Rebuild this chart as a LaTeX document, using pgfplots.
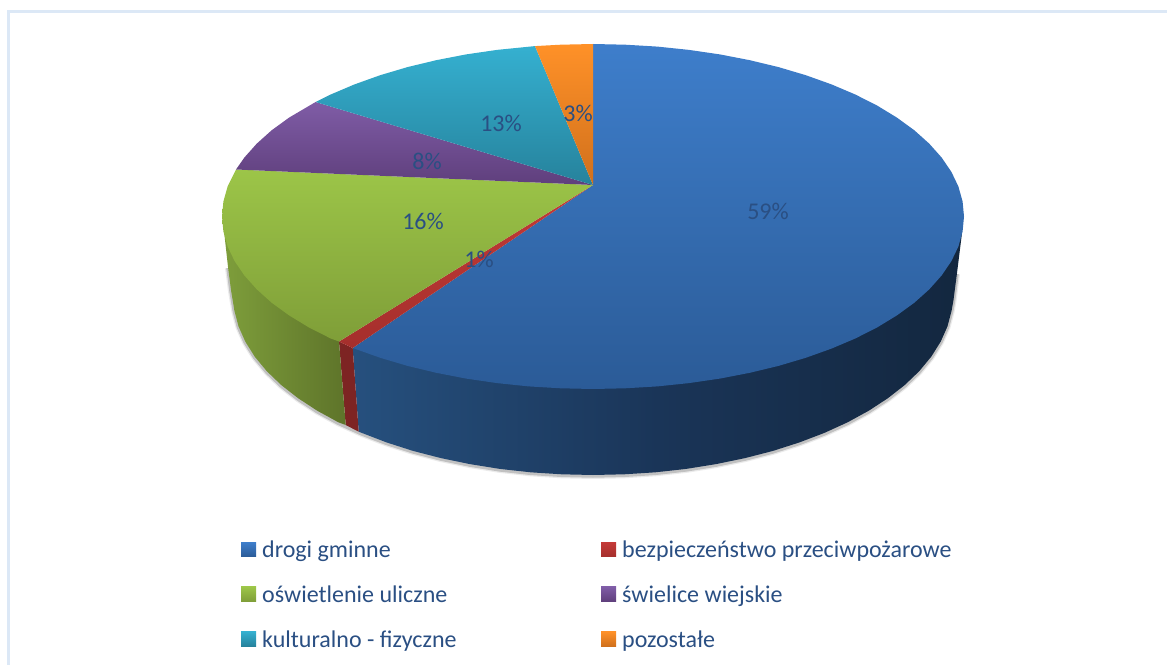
\documentclass[border=0pt]{standalone}
\usepackage{pgfplots}
\pgfplotsset{compat=1.18}
\usepackage{pgfplotstable}
\usepackage{fontspec}
\setmainfont{Carlito}
\definecolor{lbl}{HTML}{2A4F83}
\definecolor{frame}{HTML}{DCE8F6}
\definecolor{bsl}{HTML}{26507E}\definecolor{bsm}{HTML}{1A3558}\definecolor{bsr}{HTML}{13273F}
\definecolor{rs}{HTML}{7D2423}
\definecolor{gsl}{HTML}{7E9E3B}\definecolor{gsr}{HTML}{5E742A}
\definecolor{bt}{HTML}{3E7ECB}\definecolor{bb}{HTML}{2B5B97}
\definecolor{rt}{HTML}{C43A38}\definecolor{rb}{HTML}{A52F2C}
\definecolor{gt}{HTML}{9CC548}\definecolor{gb}{HTML}{7F9E38}
\definecolor{pt}{HTML}{7F5CA6}\definecolor{pb}{HTML}{5F3F7C}
\definecolor{tt}{HTML}{35B0D0}\definecolor{tb}{HTML}{26829C}
\definecolor{ot}{HTML}{FF9128}\definecolor{ob}{HTML}{D0701C}
\pgfplotstableread{
x y
957 273
953.5 300
951.6 310.7
947.5 326.3
940.7 341.6
931.3 356.6
919.3 371.1
904.8 385
887.9 398.2
868.8 410.7
847.6 422.3
824.4 432.9
799.5 442.4
773 450.9
745.1 458.1
716.1 464.1
686.2 468.9
655.5 472.3
624.4 474.3
593 475
561.6 474.3
530.5 472.3
499.8 468.9
469.9 464.1
440.9 458.1
413 450.9
386.5 442.4
361.6 432.9
338.4 422.3
317.2 410.7
298.1 398.2
281.2 385
266.7 371.1
254.7 356.6
245.3 341.6
238.5 326.3
234.4 310.7
231 290
228 267
}\rim
\begin{document}
\begin{tikzpicture}
\begin{axis}[
  width=1168pt,height=666pt,scale only axis,
  xmin=0,xmax=1168,ymin=0,ymax=666,y dir=reverse,
  hide axis,clip=false,
  legend columns=2,
  legend cell align=left,
  legend image code/.code={\path[#1,draw=none] (0pt,-6.5pt) rectangle (15pt,8pt);},
  legend style={at={(axis cs:241,538)},anchor=north west,draw=none,fill=none,
    row sep=20.5pt,font=\fontsize{24}{24}\selectfont\color{lbl},inner sep=0pt,
    nodes={inner xsep=6pt,inner ysep=3pt}},
]
% page corners and frame
\addplot[draw=none,forget plot] coordinates {(0,0) (1168,666)};
\addplot[frame,line width=3pt,forget plot] coordinates {(8,664.5) (8,12) (1166.5,12)};
% shadow
\addplot[black,line width=6pt,opacity=.08,forget plot,yshift=-1pt] table {\rim};
\addplot[black,line width=3.5pt,opacity=.18,forget plot,yshift=-1pt] table {\rim};
% side faces
\addplot[draw=none,left color=bsl,right color=bsr,middle color=bsm,forget plot]
 coordinates {(352.7,348) (358.7,431.7) (386.5,442.4) (413,450.9) (440.9,458.1) (469.9,464.1) (499.8,468.9) (530.5,472.3) (561.6,474.3) (593,475) (624.4,474.3) (655.5,472.3) (686.2,468.9) (716.1,464.1) (745.1,458.1) (773,450.9) (799.5,442.4) (824.4,432.9) (847.6,422.3) (868.8,410.7) (887.9,398.2) (904.8,385) (919.3,371.1) (931.3,356.6) (940.7,341.6) (947.5,326.3) (951.6,310.7) (953.5,300) (957,273) (962,233)} --cycle;
\addplot[draw=none,fill=rs,forget plot]
 coordinates {(339,341.5) (352.7,348) (358.7,431.7) (345.7,425)} --cycle;
\addplot[draw=none,left color=gsl,right color=gsr,forget plot]
 coordinates {(339,341.5) (345.7,425) (338.4,422.3) (317.2,410.7) (298.1,398.2) (281.2,385) (266.7,371.1) (254.7,356.6) (245.3,341.6) (238.5,326.3) (234.4,310.7) (231,290) (228,267) (225,240) (223.5,225)} --cycle;
% top faces
\addplot[draw=none,top color=bt,bottom color=bb]
 coordinates {(593,185) (593,44) (625.3,44.7) (657.4,46.6) (689,49.9) (719.9,54.4) (749.8,60.2) (778.5,67.1) (805.8,75.2) (831.5,84.4) (855.3,94.5) (877.2,105.6) (896.9,117.6) (914.3,130.25) (929.2,143.6) (941.6,157.5) (951.4,171.9) (958.4,186.5) (962.6,201.5) (964,216.5) (962.6,231.5) (958.4,246.5) (951.4,261.1) (941.6,275.5) (929.2,289.4) (914.3,302.75) (896.9,315.4) (877.2,327.4) (855.3,338.5) (831.5,348.6) (805.8,357.8) (778.5,365.9) (749.8,372.8) (719.9,378.6) (689,383.1) (657.4,386.4) (625.3,388.3) (593,389) (560.7,388.3) (528.6,386.4) (497,383.1) (466.1,378.6) (436.2,372.8) (407.5,365.9) (380.2,357.8) (352.7,348)} --cycle;
\addlegendentry{\makebox[333pt][l]{drogi gminne}}
\addplot[draw=none,top color=rt,bottom color=rb]
 coordinates {(593,185) (352.7,348) (339,341.5)} --cycle;
\addlegendentry{bezpieczeństwo przeciwpożarowe}
\addplot[draw=none,top color=gt,bottom color=gb]
 coordinates {(593,185) (339,341.5) (330.7,338.5) (308.8,327.4) (289.1,315.4) (271.7,302.75) (256.8,289.4) (244.4,275.5) (234.6,261.1) (227.6,246.5) (223.4,231.5) (222,216.5) (223.4,201.5) (227.6,186.5) (236,169.5)} --cycle;
\addlegendentry{\makebox[333pt][l]{oświetlenie uliczne}}
\addplot[draw=none,top color=pt,bottom color=pb]
 coordinates {(593,185) (236,169.5) (244.4,157.5) (256.8,143.6) (271.7,130.25) (289.1,117.6) (315.6,102)} --cycle;
\addlegendentry{świelice wiejskie}
\addplot[draw=none,top color=tt,bottom color=tb]
 coordinates {(593,185) (315.6,102) (330.7,94.5) (354.5,84.4) (380.2,75.2) (407.5,67.1) (436.2,60.2) (466.1,54.4) (497,49.9) (535,46.1)} --cycle;
\addlegendentry{\makebox[333pt][l]{kulturalno - fizyczne}}
\addplot[draw=none,top color=ot,bottom color=ob]
 coordinates {(593,185) (535,46.1) (560.7,44.7) (593,44)} --cycle;
\addlegendentry{pozostałe}
% data labels
\node[text=lbl,font=\fontsize{24}{24}\selectfont] at (axis cs:768,211) {59\%};
\node[text=lbl,font=\fontsize{24}{24}\selectfont] at (axis cs:479,259) {1\%};
\node[text=lbl,font=\fontsize{24}{24}\selectfont] at (axis cs:423,221) {16\%};
\node[text=lbl,font=\fontsize{24}{24}\selectfont] at (axis cs:427,161) {8\%};
\node[text=lbl,font=\fontsize{24}{24}\selectfont] at (axis cs:501,123) {13\%};
\node[text=lbl,font=\fontsize{24}{24}\selectfont] at (axis cs:578,113) {3\%};
\end{axis}
\end{tikzpicture}
\end{document}
